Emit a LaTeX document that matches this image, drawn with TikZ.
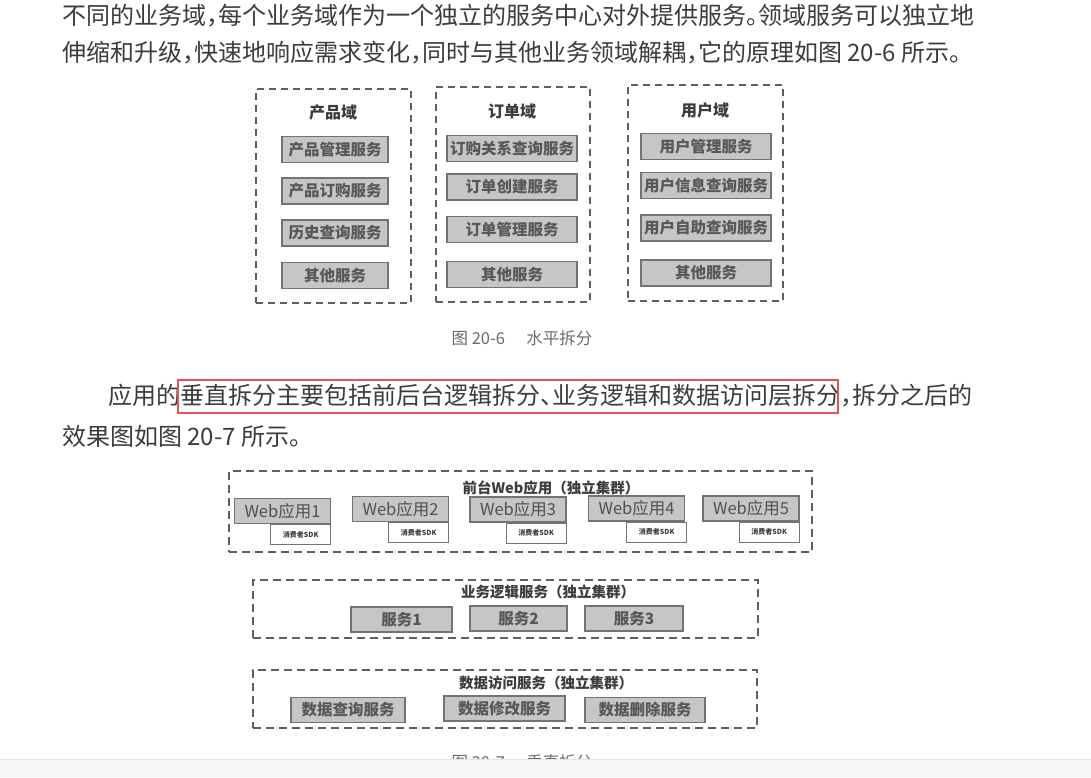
\documentclass[tikz,border=0pt]{standalone}
\usepackage{fontspec}
\setmainfont{Noto Sans CJK SC}
\usetikzlibrary{positioning}
\definecolor{Ink}{RGB}{60,60,60}
\definecolor{Frame}{RGB}{95,95,95}
\definecolor{Box}{RGB}{198,198,198}
\definecolor{Edge}{RGB}{115,115,115}
\definecolor{Label}{RGB}{88,88,88}
\definecolor{Mark}{RGB}{228,84,84}
\definecolor{Strip}{RGB}{247,247,247}
\newcommand{\halfpunct}[1]{\makebox[0.5em][l]{#1}}

\begin{document}
\begin{tikzpicture}[x=1pt,y=-1pt,
 body/.style={anchor=west,inner sep=0pt,text=Ink,font=\fontsize{24}{28}\selectfont},
 figcap/.style={inner sep=0pt,text=Ink!75,font=\fontsize{16.5}{18}\selectfont},
 dom/.style={draw=Frame,line width=1.8pt,dash pattern=on 7pt off 5pt,inner sep=0pt},
 domtitle/.style={inner sep=0pt,text=Ink,font=\fontsize{16}{18}\selectfont\bfseries},
 svc/.style={draw=Edge,fill=Box,line width=1.2pt,minimum height=26pt,inner sep=0pt,text=Label,font=\fontsize{15.5}{18}\selectfont\bfseries},
 web/.style={svc,minimum width=96pt,minimum height=25pt,text=Ink!90,font=\fontsize{16.5}{18}\selectfont},
 sdk/.style={draw=Edge,fill=white,line width=.8pt,minimum width=60pt,minimum height=20pt,inner sep=0pt,text=Ink,font=\fontsize{7}{8}\selectfont\bfseries},
 grp/.style={dom,line width=1.6pt,dash pattern=on 8pt off 5pt},
 grptitle/.style={domtitle,font=\fontsize{14.5}{17}\selectfont\bfseries}]
\fill[white] (0,0) rectangle (1091,777);
\useasboundingbox (0,0) rectangle (1091,777);

% running text
\node[body] (p1) at (62,16) {不同的业务域\halfpunct{，}每个业务域作为一个独立的服务中心对外提供服务\halfpunct{。}领域服务可以独立地};
\node[body] (p2) at (62,53) {伸缩和升级\halfpunct{，}快速地响应需求变化\halfpunct{，}同时与其他业务领域解耦\halfpunct{，}它的原理如图 20-6 所示。};

% fig 20-6
\node[dom,minimum width=155pt,minimum height=214pt] (prod) at (333.5,196) {};
\node[domtitle] (prodT) at (333,112) {产品域};
\node[svc,minimum width=106pt] (prod1) at (335,149.5) {产品管理服务};
\node[svc,minimum width=106pt] (prod2) at (335,191) {产品订购服务};
\node[svc,minimum width=106pt] (prod3) at (335,233) {历史查询服务};
\node[svc,minimum width=106pt] (prod4) at (335,275.5) {其他服务};

\node[dom,minimum width=154pt,minimum height=215pt] (ord) at (513,194.5) {};
\node[domtitle] (ordT) at (512,111) {订单域};
\node[svc,minimum width=130pt] (ord1) at (512,148.5) {订购关系查询服务};
\node[svc,minimum width=130pt] (ord2) at (512,187) {订单创建服务};
\node[svc,minimum width=130pt] (ord3) at (512,229.5) {订单管理服务};
\node[svc,minimum width=130pt] (ord4) at (512,274.5) {其他服务};

\node[dom,minimum width=155pt,minimum height=216pt] (usr) at (705.5,193) {};
\node[domtitle] (usrT) at (705,110) {用户域};
\node[svc,minimum width=130pt] (usr1) at (706,146.5) {用户管理服务};
\node[svc,minimum width=130pt] (usr2) at (706,185.5) {用户信息查询服务};
\node[svc,minimum width=130pt] (usr3) at (706,228) {用户自助查询服务};
\node[svc,minimum width=130pt] (usr4) at (706,273) {其他服务};

\node[figcap] (cap1) at (522,338) {图 20-6\hspace{1.3em}水平拆分};

% running text
\node[body] (p3) at (108,396) {应用的垂直拆分主要包括前后台逻辑拆分\halfpunct{、}业务逻辑和数据访问层拆分\halfpunct{，}拆分之后的};
\node[draw=Mark,line width=1.3pt,minimum width=660pt,minimum height=33pt,inner sep=0pt] (mark) at (508,396.5) {};
\node[body] (p4) at (62,436) {效果图如图 20-7 所示。};

% fig 20-7
\node[grp,minimum width=583pt,minimum height=81pt] (front) at (520.5,511.5) {};
\node[grptitle] (frontT) at (551,488) {前台Web应用（独立集群）};
\node[web] (web1) at (282.5,511) {Web应用1};
\node[web] (web2) at (400.5,509) {Web应用2};
\node[web] (web3) at (518,509.5) {Web应用3};
\node[web] (web4) at (636.5,508.5) {Web应用4};
\node[web] (web5) at (751,508.5) {Web应用5};
\node[sdk,below left=0pt of web1.south east] (sdk1) {消费者SDK};
\node[sdk,below left=0pt of web2.south east] (sdk2) {消费者SDK};
\node[sdk,below left=0pt of web3.south east] (sdk3) {消费者SDK};
\node[sdk,below left=0pt and -2pt of web4.south east] (sdk4) {消费者SDK};
\node[sdk,below left=0pt of web5.south east] (sdk5) {消费者SDK};

\node[grp,minimum width=505pt,minimum height=58pt] (logic) at (505.5,609) {};
\node[grptitle] (logicT) at (548,592) {业务逻辑服务（独立集群）};
\node[svc,minimum width=101pt,minimum height=25pt] (biz1) at (401.5,619.5) {服务1};
\node[svc,minimum width=97pt,minimum height=25pt] (biz2) at (518.5,618.5) {服务2};
\node[svc,minimum width=98pt,minimum height=25pt] (biz3) at (634,618.5) {服务3};

\node[grp,minimum width=504pt,minimum height=58pt] (dao) at (505,699) {};
\node[grptitle] (daoT) at (546,683) {数据访问服务（独立集群）};
\node[svc,minimum width=114pt,minimum height=25pt] (dao1) at (348,710) {数据查询服务};
\node[svc,minimum width=121pt,minimum height=25pt] (dao2) at (504.5,708.5) {数据修改服务};
\node[svc,minimum width=120pt,minimum height=25pt] (dao3) at (645,710) {数据删除服务};

\node[figcap] (cap2) at (522,762) {图 20-7\hspace{1.3em}垂直拆分};
\fill[Strip] (0,759) rectangle (1091,777);
\draw[black!10,line width=.6pt] (0,759) -- (1091,759);
\end{tikzpicture}
\end{document}
